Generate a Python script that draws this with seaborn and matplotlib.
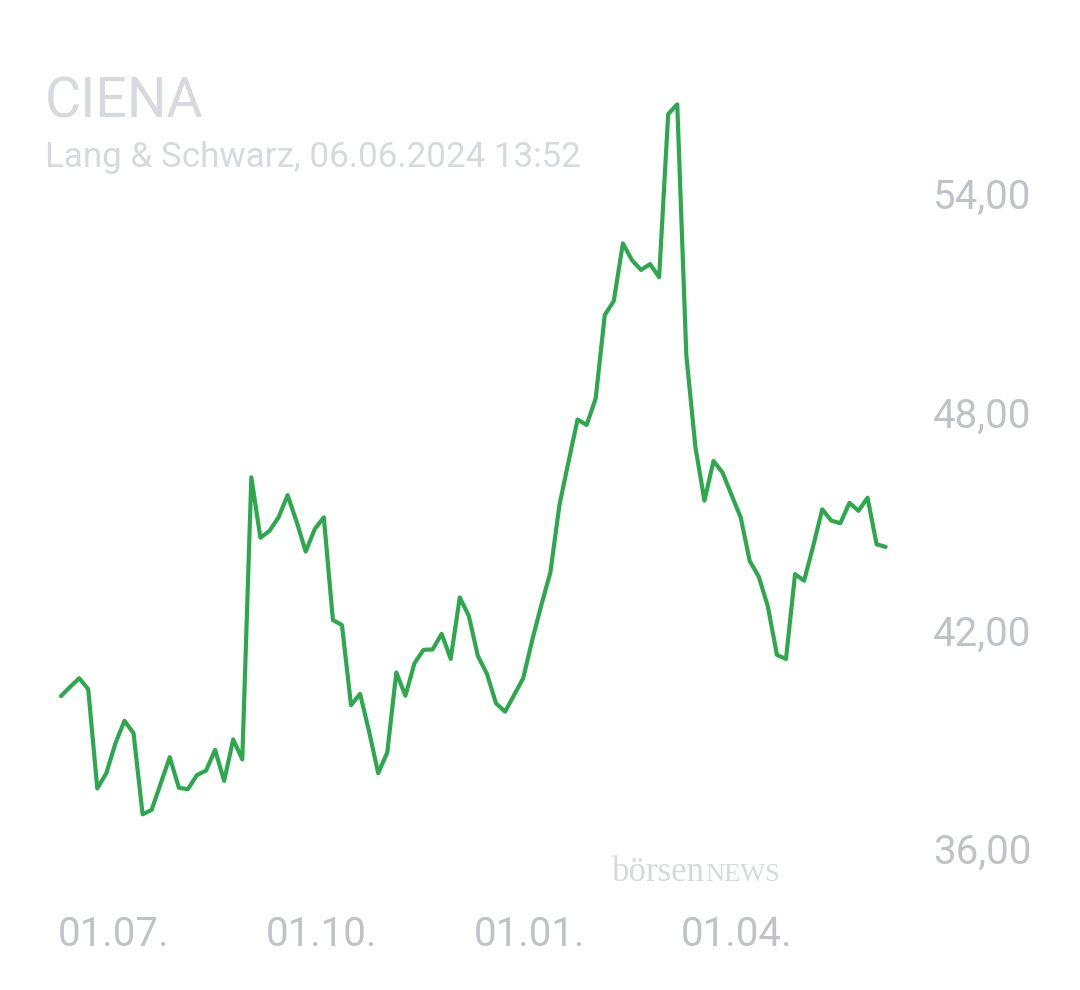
import pandas as pd
import matplotlib.pyplot as plt
import matplotlib.dates as mdates
from matplotlib.ticker import FixedLocator, FuncFormatter
import seaborn as sns

# Kursverlauf CIENA, 4-Tages-Raster (Lang & Schwarz)
start_date = "2023-06-08"
end_date = "2024-06-06"
prices = [
    40.19, 40.44, 40.68, 40.38, 37.65, 38.07, 38.89, 39.51, 39.17, 36.94,
    37.06, 37.79, 38.51, 37.67, 37.63, 38.02, 38.14, 38.71, 37.86, 39.00,
    38.45, 46.20, 44.54, 44.73, 45.10, 45.71, 44.98, 44.16, 44.78, 45.10,
    42.28, 42.14, 39.94, 40.25, 39.21, 38.07, 38.64, 40.84, 40.20, 41.09,
    41.46, 41.47, 41.90, 41.21, 42.90, 42.39, 41.29, 40.80, 39.99, 39.76,
    40.22, 40.68, 41.73, 42.69, 43.59, 45.44, 46.63, 47.79, 47.64, 48.37,
    50.66, 51.05, 52.63, 52.17, 51.90, 52.06, 51.70, 56.18, 56.45, 49.56,
    47.04, 45.56, 46.65, 46.33, 45.71, 45.10, 43.90, 43.47, 42.65, 41.32,
    41.21, 43.54, 43.36, 44.31, 45.32, 45.01, 44.94, 45.50, 45.28, 45.64,
    44.36, 44.29,
]
x_ticks = ["2023-07-01", "2023-10-01", "2024-01-01", "2024-04-01"]
y_ticks = [36, 42, 48, 54]

df = pd.DataFrame({
    "datum": pd.date_range(end=end_date, periods=len(prices), freq="4D"),
    "kurs": prices,
})

sns.set_style("white")
plt.rcParams["font.family"] = ["Roboto", "DejaVu Sans"]

fig = plt.figure(figsize=(10.8, 9.9), dpi=100)
ax = fig.add_axes([0.037, 0.0909, 0.8009, 0.8485])

sns.lineplot(data=df, x="datum", y="kurs", color="#2ea84e", linewidth=3, ax=ax)

ax.set_xlim(pd.Timestamp(start_date) - pd.Timedelta(days=9.3),
            pd.Timestamp(end_date) + pd.Timedelta(days=8.5))
ax.set_ylim(34.585, 57.669)

ax.xaxis.set_major_locator(FixedLocator(mdates.date2num(pd.to_datetime(x_ticks))))
ax.xaxis.set_major_formatter(mdates.DateFormatter("%d.%m."))
ax.yaxis.tick_right()
ax.yaxis.set_major_locator(FixedLocator(y_ticks))
ax.yaxis.set_major_formatter(FuncFormatter(lambda v, p: f"{v:.2f}".replace(".", ",")))

grey = "#bfc3c8"
ax.tick_params(axis="x", length=0, pad=11, labelsize=29, labelcolor=grey)
ax.tick_params(axis="y", length=0, pad=20, labelsize=29, labelcolor=grey)
ax.set_xlabel("")
ax.set_ylabel("")
for side in ax.spines.values():
    side.set_visible(False)

fig.text(45 / 1080, 1 - 117 / 990, "CIENA", fontsize=40, color="#d6d9dd")
fig.text(45 / 1080, 1 - 167 / 990, "Lang & Schwarz, 06.06.2024 13:52",
         fontsize=25.2, color="#d6d9dd")

# Wasserzeichen
fig.text(612 / 1080, 1 - 881 / 990, "börsen", fontsize=25, color="#d6d9dd",
         family="Liberation Serif")
fig.text(705 / 1080, 1 - 881 / 990, "NEWS", fontsize=19, color="#d6d9dd",
         family="Liberation Serif")

fig.savefig("out.png", dpi=100, facecolor="white")
plt.close(fig)
